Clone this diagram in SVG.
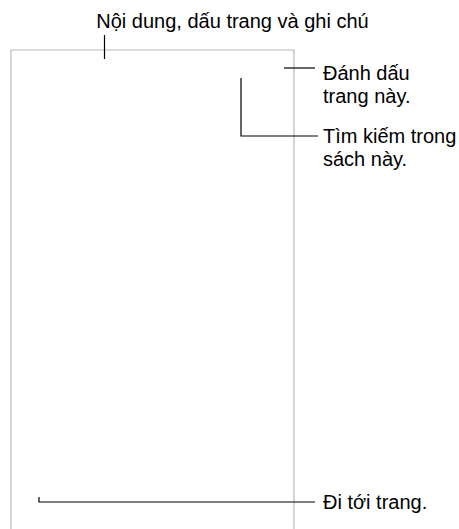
<svg xmlns="http://www.w3.org/2000/svg" width="459" height="529" viewBox="0 0 459 529">
<style>
.t{font-family:"Liberation Sans",Arial,Helvetica,sans-serif;font-size:20px;fill:#000}
.frame{fill:none;stroke:#b8b8b8;stroke-width:1.2}
.c{fill:none;stroke:#000;stroke-width:1.2}
</style>
<rect width="459" height="529" fill="#fff"/>
<g id="frame"><path class="frame" d="M11,530 V50 H294 V530"/></g>
<g id="connectors">
<path class="c" d="M104.5,35 V59"/>
<path class="c" d="M284,68 H315"/>
<path class="c" d="M241,78 V136 H318"/>
<path class="c" d="M39,497 V502 H315"/>
</g>
<g id="label-top"><text class="t" x="232.5" y="28" text-anchor="middle">Nội dung, dấu trang và ghi chú</text></g>
<g id="label-bookmark"><text class="t" x="323" y="80">Đánh dấu</text><text class="t" x="323" y="103">trang này.</text></g>
<g id="label-search"><text class="t" x="323" y="143">Tìm kiếm trong</text><text class="t" x="323" y="166">sách này.</text></g>
<g id="label-goto"><text class="t" x="323" y="509">Đi tới trang.</text></g>
</svg>
